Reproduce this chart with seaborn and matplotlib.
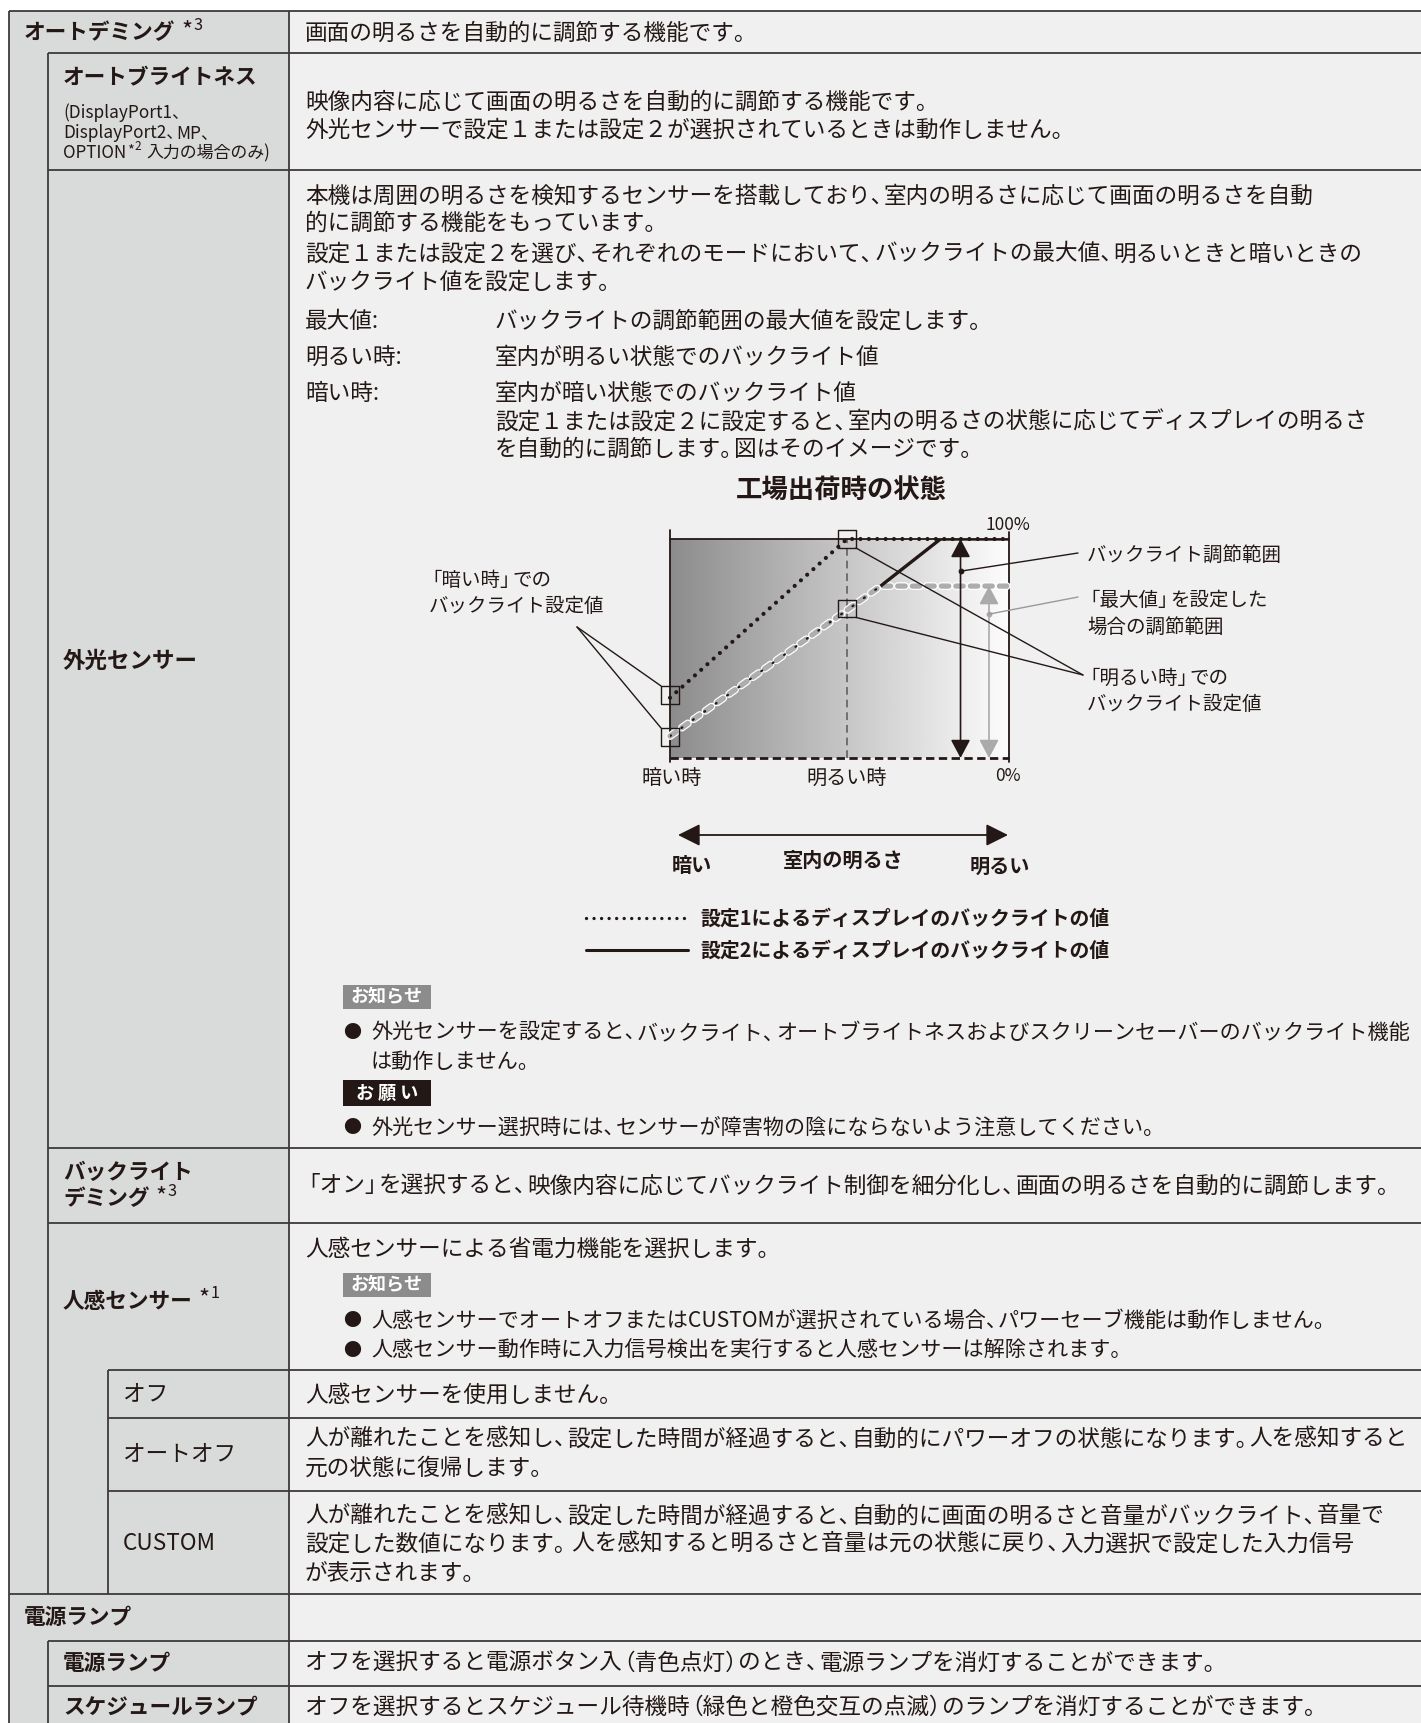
import re
import numpy as np
import pandas as pd
import matplotlib
matplotlib.use("Agg")
import matplotlib.pyplot as plt
import matplotlib.patheffects as pe
from matplotlib.patches import Rectangle
import seaborn as sns

sns.set_theme(style="white")
plt.rcParams['font.family'] = ['Noto Sans CJK JP', 'DejaVu Sans']

# ---------------- chart data (fractions of backlight range) ----------------
room_positions = [0.0, 0.522, 1.0]            # 暗い時, 明るい時, right edge
setting1_values = [0.275, 1.0, 1.0]           # 設定1 (dotted)
setting2_x = [0.0, 0.522, 0.621, 0.798, 1.0]
setting2_values = [0.10, 0.675, 0.785, 1.0, 1.0]   # 設定2
max_x = [0.0, 0.522, 0.621, 1.005]
max_values = [0.10, 0.675, 0.785, 0.785]      # 「最大値」を設定した場合
marker_x = [0.0, 0.0, 0.522, 0.522]
marker_y = [0.288, 0.096, 1.0, 0.683]
range_arrow_x = 0.857
max_arrow_x = 0.941
bright_x = 0.522

# ---------------- texts ----------------
chart_title = "工場出荷時の状態"
legend_labels = ["設定1によるディスプレイのバックライトの値", "設定2によるディスプレイのバックライトの値"]

W, H = 1421, 1723
TXT = '#231815'
LINE = '#3e3a39'
LEFT_BG = '#d9dada'
RIGHT_BG = '#f0f0f0'
BODY = 16.3
LAB = 15.6
BUL = 15.2

fig = plt.figure(figsize=(W / 100, H / 100), dpi=100)
fig.patch.set_facecolor('white')
ax = fig.add_axes([0, 0, 1, 1])
ax.set_xlim(0, W)
ax.set_ylim(H, 0)
ax.set_axis_off()
renderer = fig.canvas.get_renderer()

# ---------------- table ----------------
ax.add_patch(Rectangle((9, 11), 289 - 9, H - 11, fc=LEFT_BG, ec='none', zorder=0))
ax.add_patch(Rectangle((289, 11), W - 289, H - 11, fc=RIGHT_BG, ec='none', zorder=0))
hlines = [(11, 9), (53, 48), (170, 48), (1148, 48), (1223, 48), (1370, 108),
          (1418, 108), (1491, 108), (1594, 9), (1641, 48), (1686, 48)]
for yy, x0 in hlines:
    ax.plot([x0, W], [yy, yy], color=LINE, lw=1.3, solid_capstyle='butt', zorder=2)
vlines = [(9, 11, H), (48, 53, 1594), (48, 1641, H), (108, 1370, 1594), (289, 11, H)]
for xx, y0, y1 in vlines:
    ax.plot([xx, xx], [y0, y1], color=LINE, lw=1.3, solid_capstyle='butt', zorder=2)


def T(x, y, s, size=BODY, weight='normal', ha='left', color=TXT, va='center', **kw):
    return ax.text(x, y, s, fontsize=size, fontweight=weight, ha=ha, va=va,
                   color=color, zorder=5, **kw)


def after(t):
    return t.get_window_extent(renderer=renderer).x1


def J(x, y, s, size=BODY, weight='normal', color=TXT, kern=0.42):
    """Left-aligned line with proportional (narrow) Japanese punctuation."""
    parts = [p for p in re.split(r'(?<=[、。」）])|(?=[「（])', s) if p]
    em = size * 100 / 72
    cur = x
    for p in parts:
        start = cur - (kern * em if p[0] in '「（' else 0.0)
        t = T(start, y, p, size=size, weight=weight, color=color)
        cur = after(t)
        if p[-1] in '、。」）':
            cur -= kern * em
    return cur


def sup_label(x, y, main, digit, size=LAB, weight='bold'):
    t = T(x, y, main, size=size, weight=weight)
    xe = after(t)
    t2 = T(xe + 6, y - 2, '*', size=size * 1.1)
    xe2 = after(t2)
    T(xe2 + 1, y - 8, digit, size=size * 0.75)


def badge(x0, y0, y1, label, fc):
    ax.add_patch(Rectangle((x0, y0), 88, y1 - y0, fc=fc, ec='none', zorder=3))
    T(x0 + 44, (y0 + y1) / 2, label, size=13, weight='bold', ha='center', color='white')


def bullet(y, s, x=343, size=BUL):
    T(x, y, '●', size=13)
    J(x + 28, y, s, size=size)


# Row 1
sup_label(24, 33, "オートデミング", "3", size=LAB)
J(305, 33, "画面の明るさを自動的に調節する機能です。")

# Row 2
T(63, 78, "オートブライトネス", size=LAB, weight='bold')
J(63, 113, "(DisplayPort1、", size=12.4)
J(63, 133, "DisplayPort2、MP、", size=12.4)
t = T(63, 153, "OPTION", size=12.2)
xe = after(t)
t = T(xe + 1, 150, "*", size=10.5)
xe = after(t)
t = T(xe, 147, "2", size=8.5)
xe = after(t)
T(xe + 6, 153, "入力の場合のみ)", size=12.2)
J(305, 102, "映像内容に応じて画面の明るさを自動的に調節する機能です。")
J(305, 130, "外光センサーで設定１または設定２が選択されているときは動作しません。")

# Row 3 外光センサー
T(63, 661, "外光センサー", size=LAB + 0.6, weight='bold')
J(305, 196, "本機は周囲の明るさを検知するセンサーを搭載しており、室内の明るさに応じて画面の明るさを自動")
J(305, 223, "的に調節する機能をもっています。")
J(305, 254, "設定１または設定２を選び、それぞれのモードにおいて、バックライトの最大値、明るいときと暗いときの")
J(305, 282, "バックライト値を設定します。")
T(305, 321, "最大値:")
J(495, 321, "バックライトの調節範囲の最大値を設定します。")
T(305, 357, "明るい時:")
J(495, 357, "室内が明るい状態でのバックライト値")
T(305, 393, "暗い時:")
J(495, 393, "室内が暗い状態でのバックライト値")
J(495, 422, "設定１または設定２に設定すると、室内の明るさの状態に応じてディスプレイの明るさ")
J(495, 449, "を自動的に調節します。図はそのイメージです。")

# chart
T(841, 490, chart_title, size=19, weight='bold', ha='center')
BX0, BX1, BY0, BY1 = 670, 1009, 539, 758
cax = fig.add_axes([BX0 / W, 1 - BY1 / H, (BX1 - BX0) / W, (BY1 - BY0) / H])
cax.patch.set_alpha(0)
grad = np.linspace(0.55, 0.99, 256)[None, :]
cax.imshow(grad, extent=[0, 1, 0, 1], aspect='auto', cmap='gray', vmin=0, vmax=1,
           zorder=0, interpolation='bicubic')

# frame
cax.plot([0, 0], [-0.02, 1.04], color=TXT, lw=1.3, clip_on=False, zorder=2)
cax.plot([1, 1], [-0.02, 1.03], color=TXT, lw=1.3, clip_on=False, zorder=2)
cax.plot([0, 1], [1, 1], color=TXT, lw=1.3, clip_on=False, zorder=2)
cax.plot([0, 1], [0, 0], color=TXT, lw=2.0, linestyle=(0, (3, 1.6)), clip_on=False, zorder=2)
cax.plot([bright_x, bright_x], [0, 1], color='#6f6f6f', lw=1.4, linestyle=(0, (4, 2.5)), zorder=1)

df_max = pd.DataFrame({'x': max_x, 'y': max_values})
sns.lineplot(data=df_max, x='x', y='y', ax=cax, color='#adadad', lw=3.8, sort=False,
             errorbar=None, linestyle=(0, (1.4, 1.35)), dash_capstyle='round', zorder=3,
             path_effects=[pe.Stroke(linewidth=5.6, foreground='white'), pe.Normal()],
             clip_on=False)

s2x = np.array(setting2_x)
s2y = np.array(setting2_values)
knee = float(np.max(max_values))
under = s2y <= knee + 1e-9
over = s2y >= knee - 1e-9
df_s2a = pd.DataFrame({'x': s2x[under], 'y': s2y[under]})
df_s2b = pd.DataFrame({'x': s2x[over], 'y': s2y[over]})
sns.lineplot(data=df_s2a, x='x', y='y', ax=cax, color=TXT, lw=1.6, sort=False,
             errorbar=None, linestyle=(0, (0.5, 5.8)), dash_capstyle='round', zorder=4)
sns.lineplot(data=df_s2b, x='x', y='y', ax=cax, color=TXT, lw=2.4, sort=False,
             errorbar=None, zorder=4, solid_capstyle='butt')

df_s1 = pd.DataFrame({'x': room_positions, 'y': setting1_values})
sns.lineplot(data=df_s1, x='x', y='y', ax=cax, color=TXT, lw=3.0, sort=False,
             errorbar=None, linestyle=(0, (0.01, 2.0)), dash_capstyle='round', zorder=5,
             clip_on=False)

cax.scatter(marker_x, marker_y, s=165, marker='s', facecolors='none', edgecolors=TXT,
            linewidths=1.0, zorder=6, clip_on=False)

cax.annotate('', xy=(range_arrow_x, 0.0), xytext=(range_arrow_x, 1.0),
             arrowprops=dict(arrowstyle='<|-|>,head_length=0.75,head_width=0.4', color=TXT,
                             lw=1.2, mutation_scale=15, shrinkA=0, shrinkB=0), zorder=6)
cax.annotate('', xy=(max_arrow_x, 0.0), xytext=(max_arrow_x, max_values[-1]),
             arrowprops=dict(arrowstyle='<|-|>,head_length=0.75,head_width=0.4', color='#aaaaaa',
                             lw=1.2, mutation_scale=15, shrinkA=0, shrinkB=0), zorder=6)
cax.scatter([range_arrow_x], [0.853], s=10, color=TXT, zorder=7)
cax.scatter([max_arrow_x], [0.657], s=10, color='#aaaaaa', zorder=7)

cax.set_xlim(0, 1)
cax.set_ylim(0, 1)
cax.set_axis_off()


def callout(xy, pxy, color=TXT, lw=1.0):
    cax.annotate('', xy=xy, xycoords='data', xytext=pxy, textcoords=ax.transData,
                 arrowprops=dict(arrowstyle='-', color=color, lw=lw, shrinkA=0, shrinkB=0),
                 annotation_clip=False, zorder=7)


hx, hy = 0.0265, 0.041
callout((range_arrow_x, 0.853), (1078, 553))
callout((max_arrow_x, 0.657), (1078, 597), color='#9a9a9a')
callout((marker_x[2] + hx, marker_y[2] - hy), (1083, 675))
callout((marker_x[3] + hx, marker_y[3] - hy), (1083, 675))
callout((marker_x[0] - hx, marker_y[0] + hy), (577, 627))
callout((marker_x[1] - hx, marker_y[1] + hy), (577, 627))

CL = 14.0
T(1008, 525, "100%", size=12.5, ha='center')
T(1008, 776, "0%", size=12.5, ha='center')
T(672, 779, "暗い時", size=14.5, ha='center')
T(847, 779, "明るい時", size=14.5, ha='center')
J(431, 580, "「暗い時」での", size=CL)
J(429, 607, "バックライト設定値", size=CL)
J(1087, 555, "バックライト調節範囲", size=CL)
J(1089, 600, "「最大値」を設定した", size=CL)
J(1087, 627, "場合の調節範囲", size=CL)
J(1089, 678, "「明るい時」での", size=CL)
J(1087, 704, "バックライト設定値", size=CL)

ax.annotate('', xy=(1008, 835), xytext=(678, 835),
            arrowprops=dict(arrowstyle='<|-|>,head_length=0.9,head_width=0.45', color=TXT,
                            lw=1.3, mutation_scale=15, shrinkA=0, shrinkB=0), zorder=5)
T(692, 866, "暗い", size=14.5, weight='bold', ha='center')
T(843, 860, "室内の明るさ", size=14.5, weight='bold', ha='center')
T(1000, 866, "明るい", size=14.5, weight='bold', ha='center')

ax.plot([586, 688], [918, 918], color=TXT, lw=2.4, linestyle=(0, (0.01, 2.25)),
        dash_capstyle='round', zorder=5)
T(700, 918, legend_labels[0], size=14.3, weight='bold')
ax.plot([586, 688], [950, 950], color=TXT, lw=2.2, zorder=5)
T(700, 950, legend_labels[1], size=14.3, weight='bold')

badge(343, 985, 1009, "お知らせ", '#8c8c8c')
bullet(1033, "外光センサーを設定すると、バックライト、オートブライトネスおよびスクリーンセーバーのバックライト機能")
J(371, 1062, "は動作しません。", size=BUL)
badge(343, 1080, 1106, "お 願 い", '#231815')
bullet(1128, "外光センサー選択時には、センサーが障害物の陰にならないよう注意してください。")

# Row 4
T(63, 1172, "バックライト", size=LAB, weight='bold')
sup_label(63, 1199, "デミング", "3")
J(307, 1186, "「オン」を選択すると、映像内容に応じてバックライト制御を細分化し、画面の明るさを自動的に調節します。")

# Row 5
sup_label(63, 1301, "人感センサー", "1")
J(305, 1249, "人感センサーによる省電力機能を選択します。")
badge(343, 1273, 1297, "お知らせ", '#8c8c8c')
bullet(1321, "人感センサーでオートオフまたはCUSTOMが選択されている場合、パワーセーブ機能は動作しません。")
bullet(1351, "人感センサー動作時に入力信号検出を実行すると人感センサーは解除されます。")

T(123, 1395, "オフ", size=BODY)
J(305, 1395, "人感センサーを使用しません。")
T(123, 1454, "オートオフ", size=BODY)
J(305, 1439, "人が離れたことを感知し、設定した時間が経過すると、自動的にパワーオフの状態になります。人を感知すると")
J(305, 1468, "元の状態に復帰します。")
T(123, 1544, "CUSTOM", size=BODY)
J(305, 1516, "人が離れたことを感知し、設定した時間が経過すると、自動的に画面の明るさと音量がバックライト、音量で")
J(305, 1544, "設定した数値になります。 人を感知すると明るさと音量は元の状態に戻り、入力選択で設定した入力信号")
J(305, 1573, "が表示されます。")

T(24, 1617, "電源ランプ", size=LAB, weight='bold')
T(63, 1663, "電源ランプ", size=LAB, weight='bold')
J(305, 1663, "オフを選択すると電源ボタン入（青色点灯）のとき、電源ランプを消灯することができます。")
T(63, 1707, "スケジュールランプ", size=LAB, weight='bold')
J(305, 1707, "オフを選択するとスケジュール待機時（緑色と橙色交互の点滅）のランプを消灯することができます。")

fig.savefig("out.png", dpi=100, facecolor='white')
